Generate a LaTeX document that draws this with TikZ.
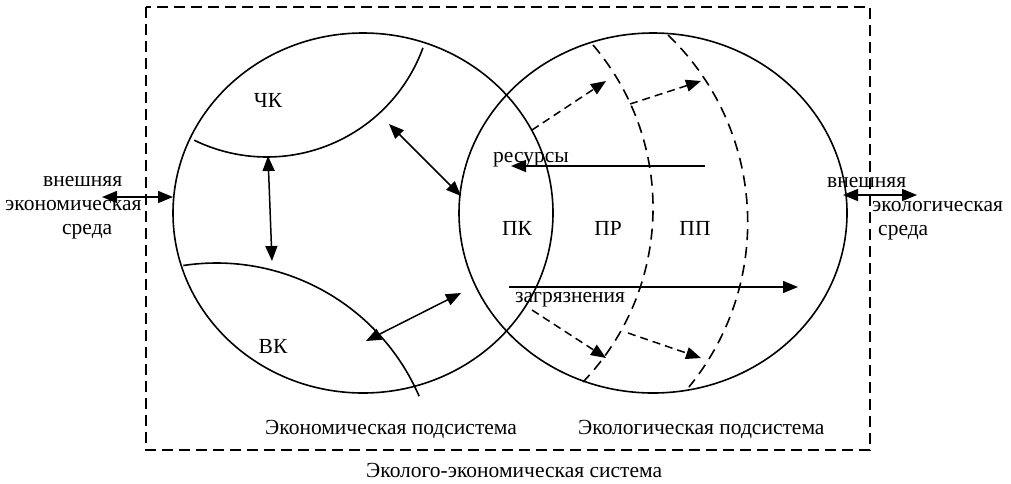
\documentclass[tikz,border=0pt]{standalone}
\usepackage{fontspec}
\setmainfont{Liberation Serif}
\usetikzlibrary{arrows.meta}
\begin{document}
\begin{tikzpicture}[x=1pt,y=-1pt,
  lbl/.style={inner sep=0pt,font=\fontsize{21.5}{25}\selectfont},
  solidline/.style={line width=1.6pt},
  dasharc/.style={line width=1.6pt,dash pattern=on 11pt off 7pt},
  framebox/.style={line width=1.8pt,dash pattern=on 11pt off 6pt},
  tip/.tip={Triangle[length=15pt,width=12pt]},
  darrow/.style={line width=1.5pt,tip-tip},
  sarrow/.style={line width=1.5pt,-tip},
  dsarrow/.style={line width=1.5pt,dash pattern=on 8pt off 5pt,-tip}]
\useasboundingbox (0,0) rectangle (1011,483);
% frame
\draw[framebox] (146,7) rectangle (870,450);
% circles
\draw[solidline] (363,213) ellipse [x radius=190pt, y radius=180pt];
\draw[solidline] (653,213) ellipse [x radius=194pt, y radius=180pt];
% ЧК arc
\draw[solidline] (194.2,140.2) arc[start angle=-116, end angle=-20, radius=166pt];
% ВК arc
\draw[solidline] (183.3,265.5) arc[start angle=98.6, end angle=23.4, radius=221pt];
% dashed arcs
\draw[dasharc] (593,45) arc[start angle=40.45, end angle=-43.84, radius=251.2pt];
\draw[dasharc] (668,35) arc[start angle=46.1, end angle=-39.3, radius=260pt];
% labels
\node[lbl,anchor=base] (chk) at (268,107) {ЧК};
\node[lbl,anchor=base] (vk) at (273,353) {ВК};
\node[lbl,anchor=base] (pk) at (517,235) {ПК};
\node[lbl,anchor=base] (pr) at (608,235) {ПР};
\node[lbl,anchor=base] (pp) at (695,235) {ПП};
\node[lbl,anchor=base west] (res) at (493,162) {ресурсы};
\node[lbl,anchor=base west] (zag) at (515,302) {загрязнения};
\node[lbl,anchor=base west] (l1) at (43,186) {внешняя};
\node[lbl,anchor=base west] (l2) at (5,210) {экономическая};
\node[lbl,anchor=base west] (l3) at (62,234) {среда};
\node[lbl,anchor=base west] (r1) at (827,187) {внешняя};
\node[lbl,anchor=base west] (r2) at (872,211) {экологическая};
\node[lbl,anchor=base west] (r3) at (878,235) {среда};
\node[lbl,anchor=base west] (eco) at (265,434) {Экономическая подсистема};
\node[lbl,anchor=base west] (ecl) at (578,434) {Экологическая подсистема};
\node[lbl,anchor=base west] (sys) at (366,477) {Эколого-экономическая система};
% arrow end points
\coordinate (la) at (102,197);
\coordinate (lb) at (173,197);
\coordinate (ra) at (843,195);
\coordinate (rb) at (917,195);
\coordinate (v1) at (268,156);
\coordinate (v2) at (272,261);
\coordinate (d1a) at (389,124);
\coordinate (d1b) at (461,196);
\coordinate (d2a) at (366,341);
\coordinate (d2b) at (461,293);
\coordinate (rsa) at (705,166);
\coordinate (rsb) at (511,166);
\coordinate (zga) at (509,287);
\coordinate (zgb) at (798,287);
\coordinate (t1a) at (532,130);
\coordinate (t1b) at (606,81);
\coordinate (t2a) at (630,104);
\coordinate (t2b) at (701,81);
\coordinate (b1a) at (532,310);
\coordinate (b1b) at (606,358);
\coordinate (b2a) at (628,333);
\coordinate (b2b) at (701,358);
% arrows
\draw[darrow] (la) -- (lb);
\draw[darrow] (ra) -- (rb);
\draw[darrow] (v1) -- (v2);
\draw[darrow] (d1a) -- (d1b);
\draw[darrow] (d2a) -- (d2b);
\draw[sarrow] (rsa) -- (rsb);
\draw[sarrow] (zga) -- (zgb);
\draw[dsarrow] (t1a) -- (t1b);
\draw[dsarrow] (t2a) -- (t2b);
\draw[dsarrow] (b1a) -- (b1b);
\draw[dsarrow] (b2a) -- (b2b);
\end{tikzpicture}
\end{document}
